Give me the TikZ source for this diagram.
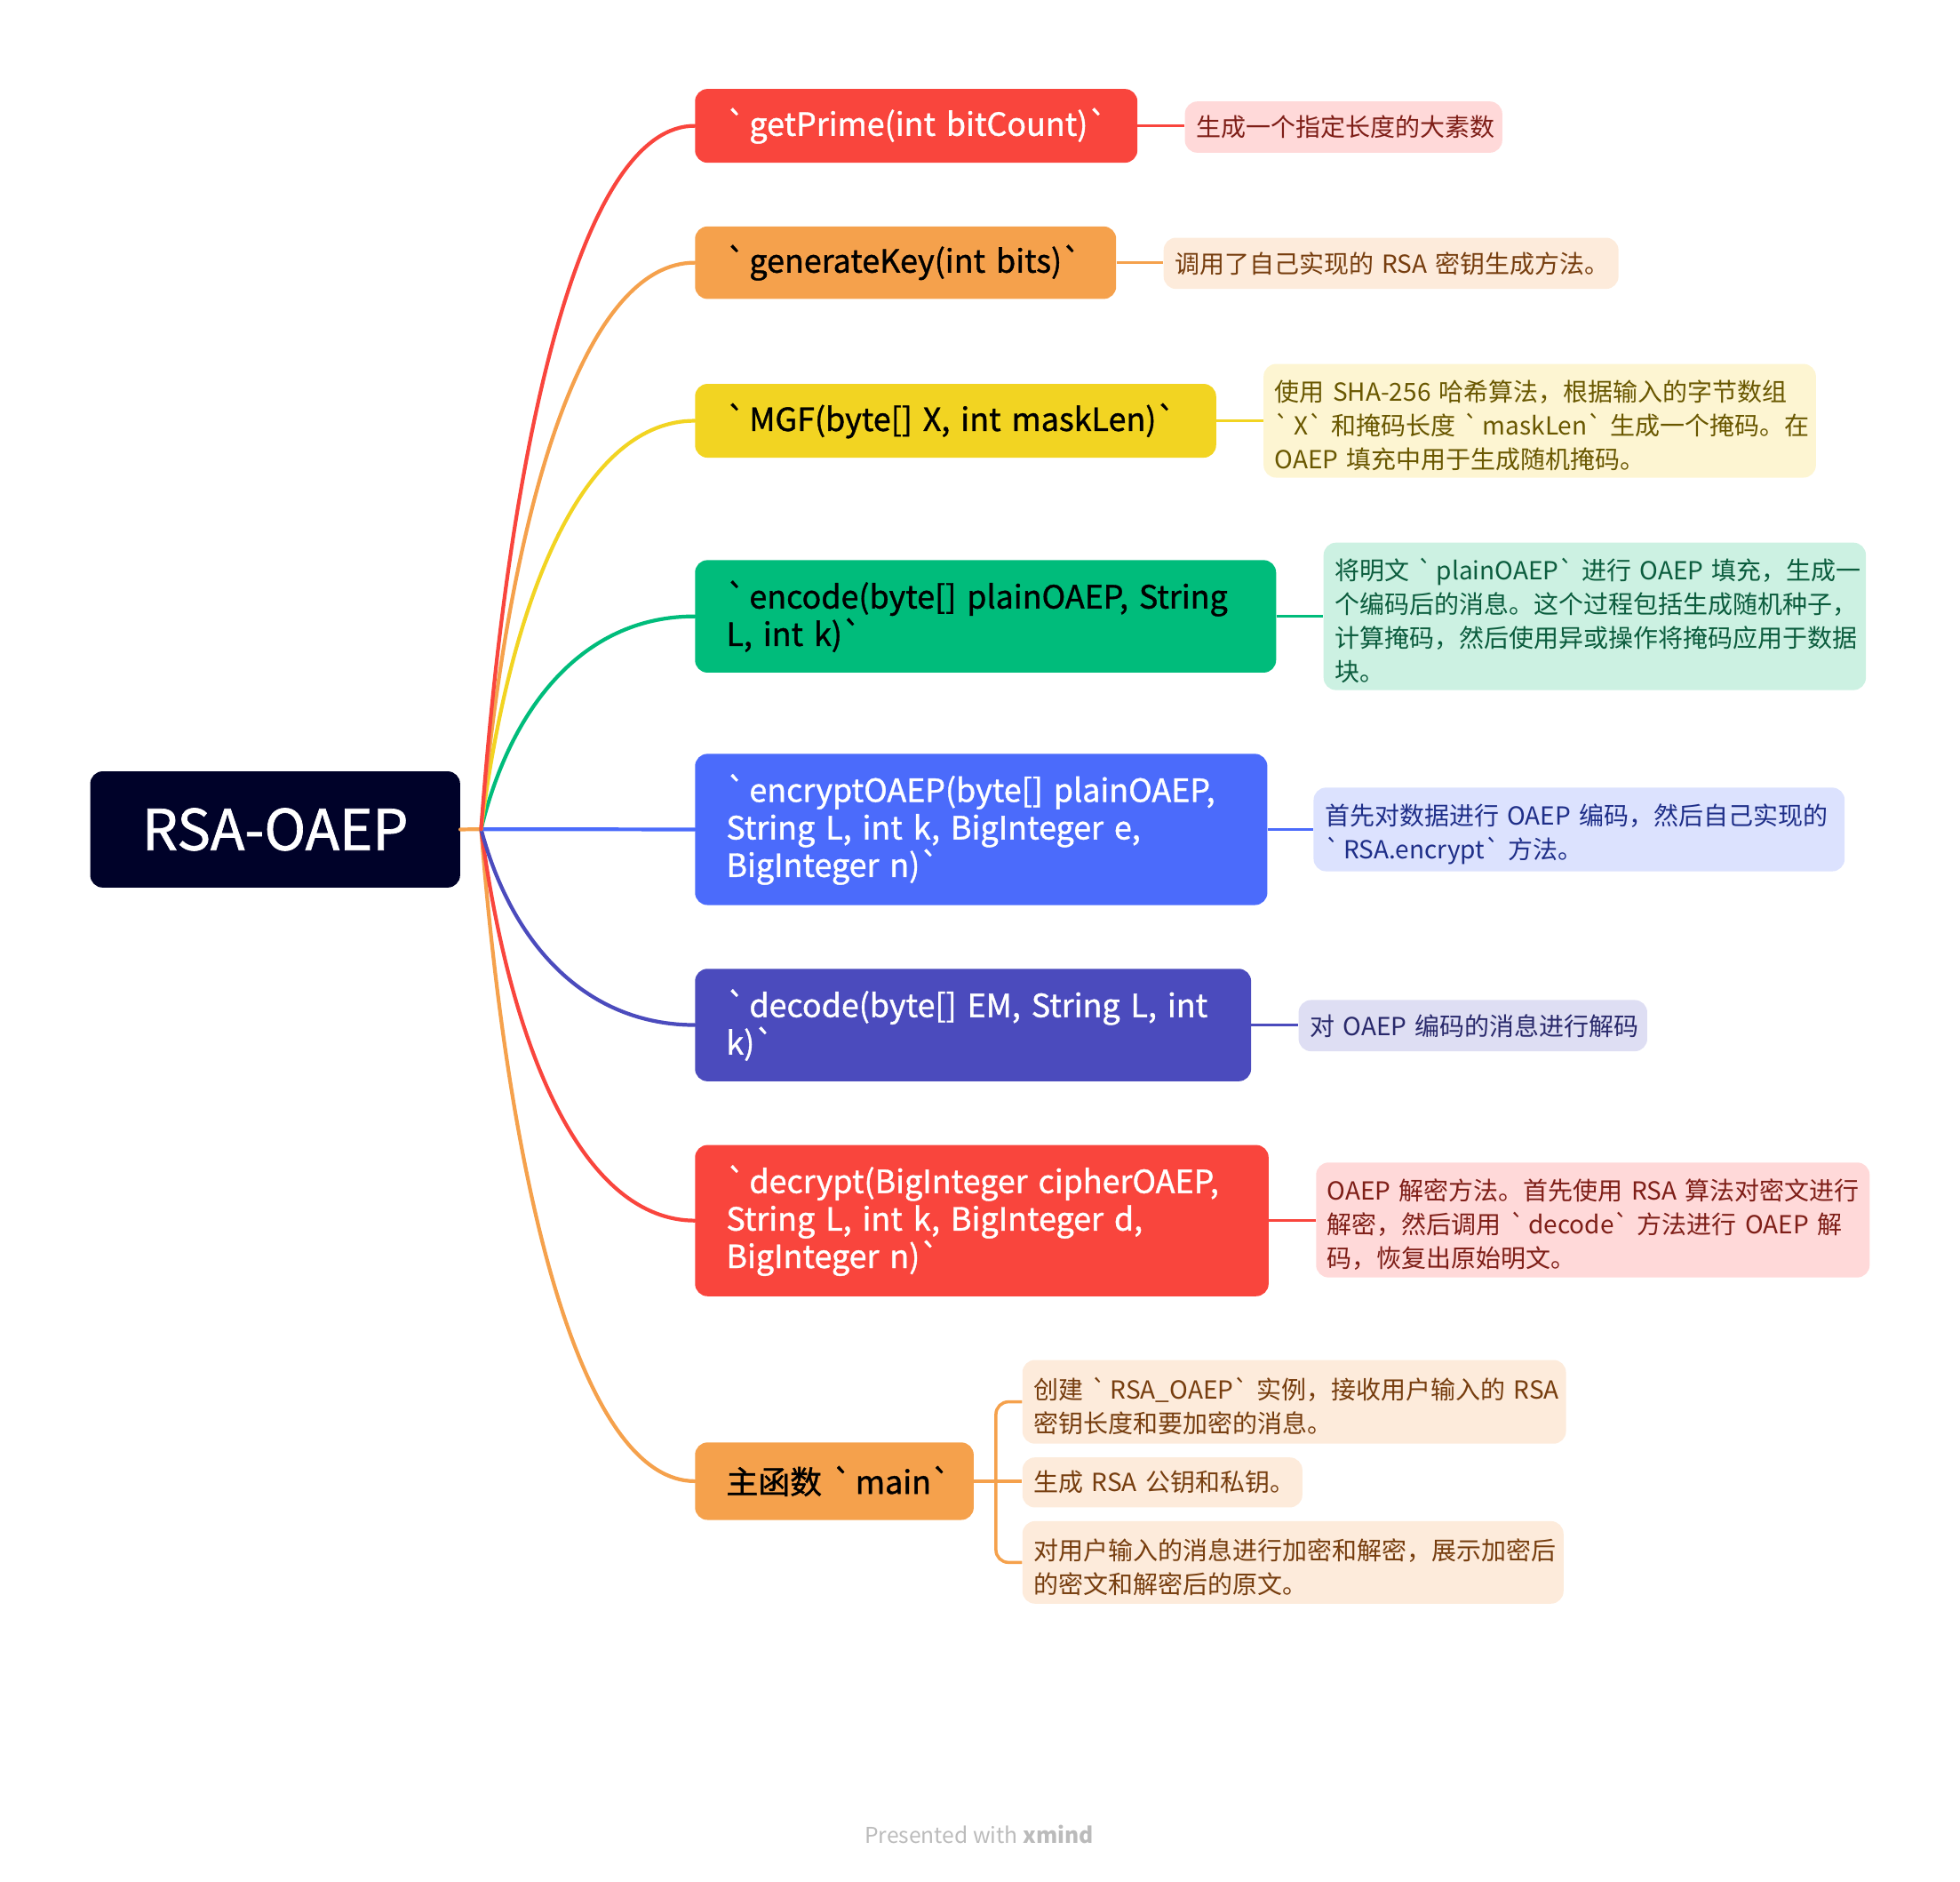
\documentclass[tikz,border=0pt]{standalone}
\usepackage{fontspec}
\newfontfamily\nf{Noto Sans CJK SC}
\newfontfamily\nfm{Noto Sans CJK SC}[FakeBold=1.1]
\usetikzlibrary{calc}
\newcommand\bq{`\hspace{3pt}}
\definecolor{cRoot}{HTML}{000229}
\definecolor{cRed}{HTML}{F9453D}
\definecolor{cOrange}{HTML}{F5A14C}
\definecolor{cYellow}{HTML}{F2D422}
\definecolor{cGreen}{HTML}{00BC7B}
\definecolor{cBlue}{HTML}{4B6BFB}
\definecolor{cIndigo}{HTML}{4B4BBD}
\definecolor{sRed}{HTML}{FFD9D9}
\definecolor{sOrange}{HTML}{FDEBDB}
\definecolor{sYellow}{HTML}{FDF5D2}
\definecolor{sGreen}{HTML}{CCF1E2}
\definecolor{sBlue}{HTML}{DCE2FE}
\definecolor{sIndigo}{HTML}{DEDEF3}
\definecolor{tRed}{HTML}{7E1E17}
\definecolor{tOrange}{HTML}{763D0E}
\definecolor{tYellow}{HTML}{695700}
\definecolor{tGreen}{HTML}{0B5C3D}
\definecolor{tBlue}{HTML}{1E2E88}
\definecolor{tIndigo}{HTML}{29296B}
\definecolor{cFoot}{HTML}{BBBBBB}
\begin{document}
\begin{tikzpicture}[x=1pt,y=-1pt,
  rootbox/.style={rounded corners=10pt, fill=cRoot, text=white, inner sep=0pt,
    anchor=north west, font=\nfm\fontsize{45}{50}\selectfont},
  titlebox/.style={rounded corners=10pt, anchor=north west, inner xsep=25pt, inner ysep=0pt,
    align=left, font=\nfm\fontsize{25.5}{30}\selectfont},
  sumbox/.style={rounded corners=10pt, anchor=north west, inner xsep=9pt, inner ysep=0pt,
    align=left, font=\nf\fontsize{19.9}{27}\selectfont},
  mlsum/.style={sumbox, execute at begin node={\rule{0pt}{24.5pt}}},
  branch/.style={line width=3pt, line cap=round},
  sumline/.style={line width=2.5pt}
]
\useasboundingbox (0,0) rectangle (1568.5,1505.9);

% root
\node[rootbox, minimum width=296pt, minimum height=93pt] (root) at (72,617) {RSA-OAEP};
\coordinate (hub) at (385,663.5);

% main topics
\node[titlebox, fill=cRed, text=white, minimum width=354pt, text width=304pt, minimum height=59pt] (n1) at (556,71) {\mbox{\bq getPrime(int bitCount)`}};
\node[titlebox, fill=cOrange, text=black, minimum width=337pt, text width=287pt, minimum height=58pt] (n2) at (556,181) {\mbox{\bq generateKey(int bits)`}};
\node[titlebox, fill=cYellow, text=black, minimum width=417pt, text width=367pt, minimum height=59pt] (n3) at (556,307) {\mbox{\bq MGF(byte[] X, int maskLen)`}};
\node[titlebox, fill=cGreen, text=black, minimum width=465pt, text width=415pt, minimum height=90pt] (n4) at (556,448) {\mbox{\bq encode(byte[] plainOAEP, String}\\L, int k)`};
\node[titlebox, fill=cBlue, text=white, minimum width=458pt, text width=408pt, minimum height=121pt] (n5) at (556,603) {\mbox{\bq encryptOAEP(byte[] plainOAEP,}\\\mbox{String L, int k, BigInteger e,}\\BigInteger n)`};
\node[titlebox, fill=cIndigo, text=white, minimum width=445pt, text width=395pt, minimum height=90pt] (n6) at (556,775) {\mbox{\bq decode(byte[] EM, String L, int}\\k)`};
\node[titlebox, fill=cRed, text=white, minimum width=459pt, text width=409pt, minimum height=121pt] (n7) at (556,916) {\mbox{\bq decrypt(BigInteger cipherOAEP,}\\\mbox{String L, int k, BigInteger d,}\\BigInteger n)`};
\node[titlebox, fill=cOrange, text=black, minimum width=223pt, text width=173pt, minimum height=62pt] (n8) at (556,1154) {\mbox{主函数 \bq main`}};

% summaries
\node[sumbox, fill=sRed, text=tRed, minimum width=254pt, text width=236pt, minimum height=41pt] (s1) at (948,81) {\mbox{生成一个指定长度的大素数}};
\node[sumbox, fill=sOrange, text=tOrange, minimum width=364pt, text width=346pt, minimum height=41pt] (s2) at (931,190) {\mbox{调用了自己实现的 RSA 密钥生成方法。}};
\node[mlsum, fill=sYellow, text=tYellow, minimum width=442pt, text width=424pt, minimum height=91pt] (s3) at (1011,291) {\mbox{使用 SHA-256 哈希算法，根据输入的字节数组}\\\mbox{\bq X` 和掩码长度 \bq maskLen` 生成一个掩码。在}\\OAEP 填充中用于生成随机掩码。};
\node[mlsum, fill=sGreen, text=tGreen, minimum width=434pt, text width=416pt, minimum height=118pt] (s4) at (1059,434) {\mbox{将明文 \bq plainOAEP` 进行 OAEP 填充，生成一}\\\mbox{个编码后的消息。这个过程包括生成随机种子，}\\\mbox{计算掩码，然后使用异或操作将掩码应用于数据}\\块。};
\node[mlsum, fill=sBlue, text=tBlue, minimum width=425pt, text width=407pt, minimum height=67pt] (s5) at (1051,630) {\mbox{首先对数据进行 OAEP 编码，然后自己实现的}\\\bq RSA.encrypt` 方法。};
\node[sumbox, fill=sIndigo, text=tIndigo, minimum width=279pt, text width=261pt, minimum height=41pt] (s6) at (1039,800) {\mbox{对 OAEP 编码的消息进行解码}};
\node[mlsum, fill=sRed, text=tRed, minimum width=443pt, text width=425pt, minimum height=92pt] (s7) at (1053,930) {\mbox{OAEP 解密方法。首先使用 RSA 算法对密文进行}\\\mbox{解密，然后调用 \bq decode` 方法进行 OAEP 解}\\码，恢复出原始明文。};
\node[mlsum, fill=sOrange, text=tOrange, minimum width=435pt, text width=417pt, minimum height=67pt] (ma) at (818,1088) {\mbox{创建 \bq RSA\_OAEP` 实例，接收用户输入的 RSA}\\密钥长度和要加密的消息。};
\node[sumbox, fill=sOrange, text=tOrange, minimum width=224pt, text width=206pt, minimum height=40pt] (mb) at (818,1166) {\mbox{生成 RSA 公钥和私钥。}};
\node[mlsum, fill=sOrange, text=tOrange, minimum width=433pt, text width=415pt, minimum height=66pt] (mc) at (818,1217) {\mbox{对用户输入的消息进行加密和解密，展示加密后}\\的密文和解密后的原文。};

% branches from root
\draw[branch, cOrange] (root.east) -- (hub);
\draw[branch, cOrange] (hub) .. controls (410,976.8) and (470,1185) .. (n8.west);
\draw[branch, cRed] (hub) .. controls (410,850.2) and (470,976.5) .. (n7.west);
\draw[branch, cIndigo] (hub) .. controls (410,757.2) and (470,820) .. (n6.west);
\draw[branch, cBlue] (hub) -- (n5.west);
\draw[branch, cGreen] (hub) .. controls (410,561) and (470,493) .. (n4.west);
\draw[branch, cYellow] (hub) .. controls (410,467.4) and (470,336.5) .. (n3.west);
\draw[branch, cOrange] (hub) .. controls (410,391.2) and (470,210) .. (n2.west);
\draw[branch, cRed] (hub) .. controls (410,325.8) and (470,100.5) .. (n1.west);

% summary connectors
\draw[sumline, cRed] (n1.east) -- (n1.east -| s1.west);
\draw[sumline, cOrange] (n2.east) -- (n2.east -| s2.west);
\draw[sumline, cYellow] (n3.east) -- (n3.east -| s3.west);
\draw[sumline, cGreen] (n4.east) -- (n4.east -| s4.west);
\draw[sumline, cBlue] (n5.east) -- (n5.east -| s5.west);
\draw[sumline, cIndigo] (n6.east) -- (n6.east -| s6.west);
\draw[sumline, cRed] (n7.east) -- (n7.east -| s7.west);

% main bracket
\coordinate (brk) at (797,1186);
\draw[sumline, cOrange] (n8.east) -- (n8.east -| mb.west);
\draw[sumline, cOrange, rounded corners=10pt] (ma.west) -| (brk) |- (mc.west);

% footer
\node[font=\nf\fontsize{17.5}{20}\selectfont, text=cFoot] (foot) at (783.5,1468) {Presented with \textbf{xmind}};
\end{tikzpicture}
\end{document}
